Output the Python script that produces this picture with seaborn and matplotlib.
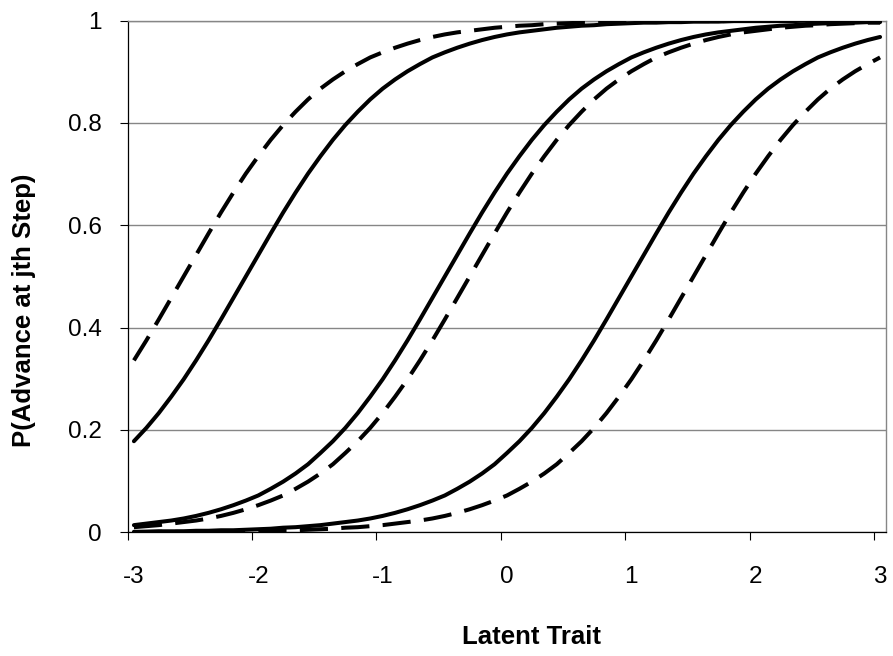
import pandas as pd
import seaborn as sns
from matplotlib import pyplot as plt

# latent trait categories (values every 0.1)
theta = [-3.0, -2.9, -2.8, -2.7, -2.6, -2.5, -2.4, -2.3, -2.2, -2.1,
         -2.0, -1.9, -1.8, -1.7, -1.6, -1.5, -1.4, -1.3, -1.2, -1.1,
         -1.0, -0.9, -0.8, -0.7, -0.6, -0.5, -0.4, -0.3, -0.2, -0.1,
         0.0, 0.1, 0.2, 0.3, 0.4, 0.5, 0.6, 0.7, 0.8, 0.9,
         1.0, 1.1, 1.2, 1.3, 1.4, 1.5, 1.6, 1.7, 1.8, 1.9,
         2.0, 2.1, 2.2, 2.3, 2.4, 2.5, 2.6, 2.7, 2.8, 2.9,
         3.0]

# solid curves
solid_step1 = [0.178, 0.204, 0.233, 0.265, 0.299, 0.336, 0.375, 0.416, 0.458, 0.500,
               0.542, 0.584, 0.625, 0.664, 0.701, 0.735, 0.767, 0.796, 0.822, 0.846,
               0.867, 0.885, 0.901, 0.915, 0.928, 0.938, 0.947, 0.955, 0.962, 0.968,
               0.973, 0.977, 0.980, 0.983, 0.986, 0.988, 0.990, 0.991, 0.993, 0.994,
               0.995, 0.996, 0.996, 0.997, 0.997, 0.998, 0.998, 0.998, 0.999, 0.999,
               0.999, 0.999, 0.999, 0.999, 1.000, 1.000, 1.000, 1.000, 1.000, 1.000,
               1.000]
solid_step2 = [0.014, 0.017, 0.020, 0.023, 0.027, 0.032, 0.038, 0.045, 0.053, 0.062,
               0.072, 0.085, 0.099, 0.115, 0.133, 0.155, 0.178, 0.204, 0.233, 0.265,
               0.299, 0.336, 0.375, 0.416, 0.458, 0.500, 0.542, 0.584, 0.625, 0.664,
               0.701, 0.735, 0.767, 0.796, 0.822, 0.846, 0.867, 0.885, 0.901, 0.915,
               0.928, 0.938, 0.947, 0.955, 0.962, 0.968, 0.973, 0.977, 0.980, 0.983,
               0.986, 0.988, 0.990, 0.991, 0.993, 0.994, 0.995, 0.996, 0.996, 0.997,
               0.997]
solid_step3 = [0.001, 0.001, 0.002, 0.002, 0.002, 0.003, 0.003, 0.004, 0.004, 0.005,
               0.006, 0.007, 0.009, 0.010, 0.012, 0.014, 0.017, 0.020, 0.023, 0.027,
               0.032, 0.038, 0.045, 0.053, 0.062, 0.072, 0.085, 0.099, 0.115, 0.133,
               0.155, 0.178, 0.204, 0.233, 0.265, 0.299, 0.336, 0.375, 0.416, 0.458,
               0.500, 0.542, 0.584, 0.625, 0.664, 0.701, 0.735, 0.767, 0.796, 0.822,
               0.846, 0.867, 0.885, 0.901, 0.915, 0.928, 0.938, 0.947, 0.955, 0.962,
               0.968]

# dashed curves
dashed_step1 = [0.336, 0.375, 0.416, 0.458, 0.500, 0.542, 0.584, 0.625, 0.664, 0.701,
                0.735, 0.767, 0.796, 0.822, 0.846, 0.867, 0.885, 0.901, 0.915, 0.928,
                0.938, 0.947, 0.955, 0.962, 0.968, 0.973, 0.977, 0.980, 0.983, 0.986,
                0.988, 0.990, 0.991, 0.993, 0.994, 0.995, 0.996, 0.996, 0.997, 0.997,
                0.998, 0.998, 0.998, 0.999, 0.999, 0.999, 0.999, 0.999, 0.999, 1.000,
                1.000, 1.000, 1.000, 1.000, 1.000, 1.000, 1.000, 1.000, 1.000, 1.000,
                1.000]
dashed_step2 = [0.010, 0.012, 0.014, 0.017, 0.020, 0.023, 0.027, 0.032, 0.038, 0.045,
                0.053, 0.062, 0.072, 0.085, 0.099, 0.115, 0.133, 0.155, 0.178, 0.204,
                0.233, 0.265, 0.299, 0.336, 0.375, 0.416, 0.458, 0.500, 0.542, 0.584,
                0.625, 0.664, 0.701, 0.735, 0.767, 0.796, 0.822, 0.846, 0.867, 0.885,
                0.901, 0.915, 0.928, 0.938, 0.947, 0.955, 0.962, 0.968, 0.973, 0.977,
                0.980, 0.983, 0.986, 0.988, 0.990, 0.991, 0.993, 0.994, 0.995, 0.996,
                0.996]
dashed_step3 = [0.0005, 0.001, 0.001, 0.001, 0.001, 0.001, 0.001, 0.002, 0.002, 0.002,
                0.003, 0.003, 0.004, 0.004, 0.005, 0.006, 0.007, 0.009, 0.010, 0.012,
                0.014, 0.017, 0.020, 0.023, 0.027, 0.032, 0.038, 0.045, 0.053, 0.062,
                0.072, 0.085, 0.099, 0.115, 0.133, 0.155, 0.178, 0.204, 0.233, 0.265,
                0.299, 0.336, 0.375, 0.416, 0.458, 0.500, 0.542, 0.584, 0.625, 0.664,
                0.701, 0.735, 0.767, 0.796, 0.822, 0.846, 0.867, 0.885, 0.901, 0.915,
                0.928]

x_ticks = [-3, -2, -1, 0, 1, 2, 3]
y_ticks = [0, 0.2, 0.4, 0.6, 0.8, 1.0]
y_tick_labels = ["0", "0.2", "0.4", "0.6", "0.8", "1"]

curves = {
    ("solid", 1): solid_step1, ("solid", 2): solid_step2, ("solid", 3): solid_step3,
    ("dashed", 1): dashed_step1, ("dashed", 2): dashed_step2, ("dashed", 3): dashed_step3,
}
frames = []
for (kind, step), values in curves.items():
    frames.append(pd.DataFrame({"theta": theta, "p": values, "kind": kind, "curve": f"{kind}{step}"}))
df = pd.concat(frames, ignore_index=True)

sns.set_theme(style="white")
plt.rcParams["font.family"] = ["Liberation Sans", "DejaVu Sans"]
plt.rcParams["text.color"] = "black"
plt.rcParams["xtick.color"] = "black"
plt.rcParams["ytick.color"] = "black"

fig = plt.figure(figsize=(8.93, 6.56), dpi=100)
ax = fig.add_axes([127.7 / 893, 1 - 532.3 / 656, (886.3 - 127.7) / 893, (532.3 - 20.6) / 656])

sns.lineplot(data=df, x="theta", y="p", units="curve", style="kind", estimator=None,
             dashes={"solid": "", "dashed": (7, 3.3)}, color="black", linewidth=2.9,
             legend=False, ax=ax, zorder=3)
for line in ax.get_lines():
    line.set_dash_capstyle("butt")
    line.set_solid_joinstyle("round")

ax.set_xlim(-3.05, 3.05)
ax.set_ylim(0, 1)

# category-style axis: tick marks between categories, labels on the values
ax.set_xticks([t - 0.05 for t in x_ticks])
ax.set_xticklabels([])
ax.set_xticks(x_ticks, minor=True)
ax.set_xticklabels([str(t) for t in x_ticks], minor=True)
ax.tick_params(axis="x", which="major", direction="out", length=5.8, width=0.8, color="black", bottom=True)
ax.tick_params(axis="x", which="minor", length=0, pad=24, labelsize=17.5, labelcolor="black", bottom=True)

ax.set_yticks(y_ticks)
ax.set_yticklabels(y_tick_labels)
ax.tick_params(axis="y", direction="out", length=5.8, width=0.8, color="black", pad=13,
               labelsize=17.5, labelcolor="black", left=True)

ax.grid(axis="y", color="#868686", linewidth=1.0)
ax.grid(axis="x", visible=False)
ax.set_axisbelow(True)

for side in ["left", "bottom"]:
    ax.spines[side].set_color("black")
    ax.spines[side].set_linewidth(0.9)
for side in ["top", "right"]:
    ax.spines[side].set_color("#868686")
    ax.spines[side].set_linewidth(1.0)

ax.set_xlabel("")
ax.set_ylabel("")
fig.text(531.7 / 893, 1 - 636.7 / 656, "Latent Trait", ha="center", va="center",
         fontsize=18.5, fontweight="bold", color="black")
fig.text(24 / 893, 1 - 310 / 656, "P(Advance at jth Step)", ha="center", va="center",
         rotation=90, fontsize=18.5, fontweight="bold", color="black")

fig.savefig("out.png", dpi=100, facecolor="white")
